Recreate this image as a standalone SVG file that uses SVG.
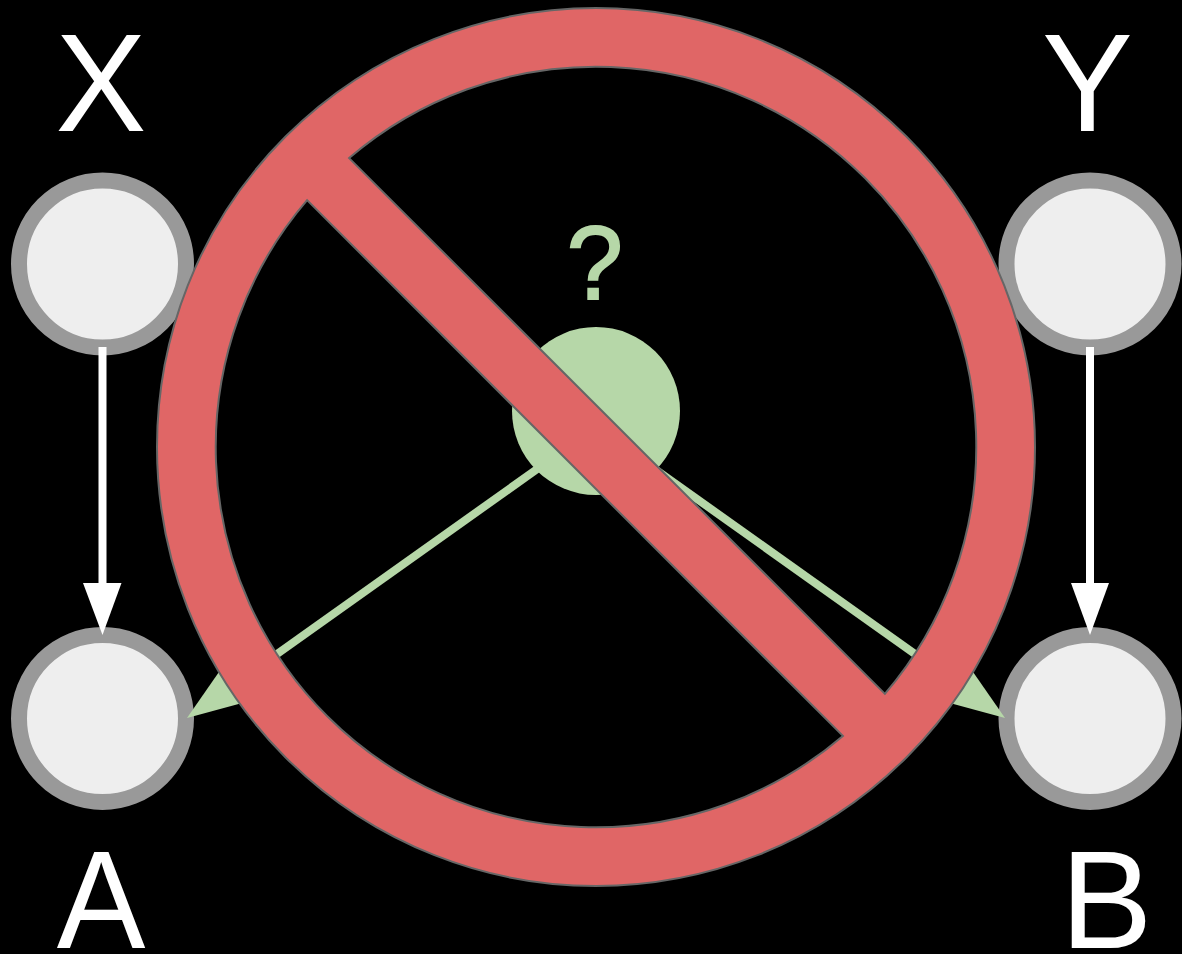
<svg xmlns="http://www.w3.org/2000/svg" width="1182" height="954" viewBox="0 0 1182 954">
<style>
.n{fill:#eeeeee;stroke:#999999;stroke-width:16}
.t{font-family:"Liberation Sans",Arial,sans-serif;font-size:140px;fill:#ffffff;text-anchor:middle}
.w{stroke:#ffffff;stroke-width:8;fill:none}
.g{stroke:#b6d7a8;stroke-width:8;fill:none}
</style>
<rect width="1182" height="954" fill="#000000"/>
<g id="node-x"><circle class="n" cx="102.500" cy="264" r="83.500"/><text class="t" transform="translate(100.900 131) scale(.973 1)">X</text></g>
<g id="node-y"><circle class="n" cx="1090" cy="264" r="83.500"/><text class="t" transform="translate(1087.500 131) scale(.973 1)">Y</text></g>
<g id="node-a"><circle class="n" cx="102.500" cy="718.500" r="83.500"/><text class="t" transform="translate(101.200 948) scale(.95 1)">A</text></g>
<g id="node-b"><circle class="n" cx="1090" cy="718.500" r="83.500"/><text class="t" transform="translate(1106.400 948) scale(.985 1)">B</text></g>
<g id="node-q"><circle cx="596" cy="411" r="84" fill="#b6d7a8"/><text transform="translate(594.800 299) scale(.97 1)" font-family="'Liberation Sans',Arial,sans-serif" font-size="104" fill="#b6d7a8" stroke="#b6d7a8" stroke-width="2" text-anchor="middle">?</text></g>
<g id="connectors">
<path class="w" d="M102.500 347V590"/>
<path d="M83 583H121.500L102.500 635Z" fill="#ffffff"/>
<path class="w" d="M1090 347V590"/>
<path d="M1071 583H1109L1090 635Z" fill="#ffffff"/>
<path class="g" d="M540 467L225 691"/>
<path d="M218.600 672.500L240.400 703.500L187 718Z" fill="#b6d7a8"/>
<path class="g" d="M652 467L967 691"/>
<path d="M973.400 672.500L951.600 703.500L1005 718Z" fill="#b6d7a8"/>
</g>
<g id="prohibition">
<path fill="#e06666" stroke="#666666" stroke-width="2" fill-rule="evenodd" d="M596 8A439 439 0 1 1 596 886A439 439 0 1 1 596 8ZM349.100 158.100L884.900 693.900A380 380 0 0 0 349.100 158.100ZM307.100 200.100A380 380 0 0 0 842.900 735.900Z"/>
</g>
</svg>
